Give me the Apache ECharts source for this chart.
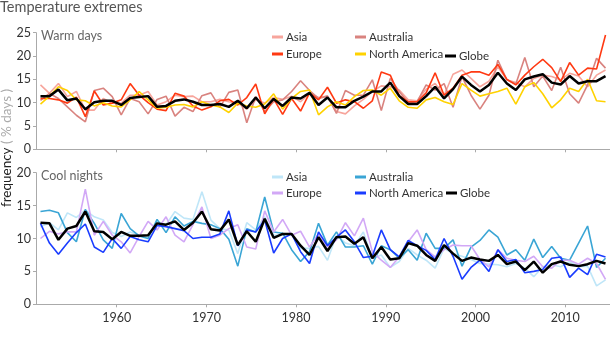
<!DOCTYPE html>
<html>
<head>
<meta charset="utf-8">
<script src="https://cdn.jsdelivr.net/npm/echarts@6/dist/echarts.min.js"></script>
<style>html,body{margin:0;padding:0;background:#fff}#c{width:610px;height:340px}</style>
</head>
<body>
<div id="c"></div>
<script>
// ---- data ----
var years = [];
for (var y = 1951; y <= 2014; y++) years.push(y);
var tickYears = [1960, 1970, 1980, 1990, 2000, 2010];
var warmTicks = [0, 5, 10, 15, 20, 25];
var coolTicks = [0, 5, 10, 15, 20];
var regions = ['Asia', 'Australia', 'Europe', 'North America', 'Globe'];

var warmAsia = [13.8,12.0,14.1,11.3,12.4,8.4,8.4,10.9,9.9,9.9,11.6,11.6,12.4,9.5,10.2,11.6,11.3,11.4,
  10.2,10.2,10.7,10.2,9.9,8.6,10.6,9.9,11.1,10.7,11.4,10.2,12.0,11.1,11.4,8.1,7.6,9.3,10.7,12.4,13.6,13.4,
  12.7,10.6,10.4,12.9,14.1,11.6,16.1,17.0,15.2,13.4,14.6,17.7,14.9,14.3,13.4,15.2,15.9,15.6,14.9,16.3,15.7,13.4,15.9,17.0];
var warmAustralia = [10.5,12.0,10.9,9.1,7.3,5.9,12.6,13.1,11.3,7.4,10.9,10.2,7.6,10.7,11.4,7.1,9.0,8.1,
  11.5,12.1,9.0,12.2,12.7,5.7,11.3,8.1,10.2,10.6,12.4,14.7,12.6,10.9,11.4,7.7,12.6,11.6,11.6,14.9,8.3,15.2,
  12.4,10.0,10.2,13.8,12.7,14.1,9.0,15.6,11.6,8.6,11.6,19.1,14.9,14.0,19.7,13.4,15.7,12.6,17.6,11.9,9.9,13.8,19.5,17.4];
var warmEurope = [10.9,10.9,10.6,9.9,11.2,7.0,12.5,9.5,9.9,10.6,14.1,11.6,10.0,8.6,8.3,12.0,11.4,9.3,
  8.4,9.1,10.4,10.7,9.5,11.1,14.0,7.6,10.8,7.5,10.9,8.2,12.1,10.6,13.3,9.9,10.6,10.2,8.8,10.4,16.6,15.9,
  11.5,10.2,10.2,12.1,16.4,11.6,13.1,15.9,16.6,16.6,15.9,18.2,15.0,13.8,15.9,17.7,19.3,17.5,14.5,18.6,15.9,17.4,17.2,24.5];
var warmNorthAmerica = [9.7,11.4,13.4,12.6,10.6,10.4,9.3,10.0,9.3,9.1,10.6,12.4,10.6,8.8,9.0,9.5,9.6,9.1,
  10.2,9.5,9.1,7.9,9.9,9.3,9.0,9.7,11.9,8.6,10.9,12.4,12.7,7.4,9.1,10.2,9.5,11.3,12.6,12.7,11.6,13.1,
  10.4,9.0,8.8,10.6,11.1,10.2,9.6,14.1,12.7,11.4,11.9,12.4,13.1,9.7,13.4,14.3,11.9,8.9,10.6,13.1,12.4,15.0,10.4,10.2];
var warmGlobe = [11.4,11.4,12.8,10.5,10.9,8.6,10.1,10.4,10.4,9.5,11.0,11.2,11.4,9.1,9.3,10.4,10.7,10.2,
  9.5,9.5,9.7,9.1,10.4,8.8,11.1,8.8,10.8,9.3,11.1,10.9,12.1,9.5,11.1,9.0,9.0,10.4,11.3,12.4,12.4,14.3,
  11.4,9.7,9.7,11.4,13.4,10.9,12.9,15.6,13.8,12.4,13.8,16.4,14.1,12.7,15.0,15.6,16.1,14.3,13.9,15.7,14.1,14.6,14.6,15.7];

var coolAsia = [11.8,12.4,11.3,13.9,13.2,14.3,13.3,12.8,10.9,10.3,11.0,10.5,10.4,12.6,12.1,14.1,13.1,12.9,
  17.1,12.8,11.5,11.3,7.7,12.4,11.3,13.3,10.5,10.5,10.7,8.5,8.5,8.8,6.7,10.5,9.3,8.9,11.0,7.0,7.5,5.6,
  6.5,8.5,7.5,6.7,5.5,8.5,7.7,7.3,6.8,6.2,6.1,6.0,5.7,6.2,5.5,4.2,5.7,6.0,5.7,6.5,5.7,5.8,2.8,3.7];
var coolAustralia = [14.1,14.3,13.9,10.9,9.5,14.4,12.3,9.8,8.5,13.8,11.5,10.4,10.0,12.9,10.9,13.3,11.9,12.6,
  12.3,12.1,11.5,9.9,5.8,11.5,11.0,16.3,11.0,10.8,8.3,6.5,8.0,12.3,9.0,11.0,8.7,8.7,8.9,6.1,8.9,8.3,
  7.0,8.3,6.7,10.8,8.5,8.5,9.8,5.8,8.7,9.7,11.3,10.2,7.5,8.3,6.7,9.9,7.1,8.8,7.0,6.7,9.3,11.9,5.6,7.0];
var coolEurope = [10.0,11.1,10.7,11.0,11.0,17.5,10.5,12.6,10.5,9.5,7.8,10.3,12.6,11.3,13.3,10.5,9.5,12.1,
  14.8,10.0,10.5,11.5,12.1,8.7,8.4,14.2,11.0,12.9,10.5,11.1,8.7,10.7,8.7,9.8,12.4,10.4,13.1,8.0,6.7,5.6,
  7.2,9.5,11.3,8.3,7.2,8.3,9.0,8.9,8.9,6.8,5.7,8.3,7.0,6.7,6.5,7.3,5.7,5.5,6.7,6.7,6.1,7.0,6.2,3.8];
var coolNorthAmerica = [12.3,9.3,7.6,9.3,10.9,12.2,8.7,7.9,10.0,8.5,10.3,9.8,9.5,12.0,11.8,11.5,11.2,10.0,
  10.2,10.2,10.7,14.2,8.9,11.3,11.0,12.8,7.8,10.0,10.7,8.0,6.2,11.0,8.9,10.2,11.3,9.5,7.1,7.3,11.3,8.3,
  7.2,9.7,8.9,8.2,6.8,10.0,7.3,3.8,5.6,6.7,5.0,8.3,6.5,6.8,4.8,5.0,5.3,7.0,7.2,4.1,5.5,4.5,7.6,7.2];
var coolGlobe = [12.4,12.3,9.8,11.5,11.9,14.1,11.1,11.0,9.9,11.0,10.4,10.4,10.5,12.3,12.1,12.6,11.3,12.4,
  14.1,11.4,11.2,12.9,9.0,11.1,9.5,13.0,10.1,10.7,10.7,8.9,7.5,10.2,8.1,10.2,10.3,9.2,10.2,7.0,8.7,6.8,
  7.0,9.3,8.9,7.5,6.6,9.0,7.7,6.6,7.1,6.8,6.6,7.5,6.1,6.5,5.2,6.5,4.8,6.1,6.5,6.0,5.8,6.1,6.6,6.2];

// ---- styling ----
var FONT = 'Lato';
var warmColors = ['#f7a59c', '#d9837f', '#ff3912', '#ffd200', '#000000'];
var coolColors = ['#bfe6f8', '#3aa5d5', '#d2a8f6', '#1a3cff', '#000000'];
var warmData = [warmAsia, warmAustralia, warmEurope, warmNorthAmerica, warmGlobe];
var coolData = [coolAsia, coolAustralia, coolEurope, coolNorthAmerica, coolGlobe];

function pts(arr) { return years.map(function (yr, i) { return [yr + 0.5, arr[i]]; }); }

var series = [];
regions.forEach(function (r, k) {
  series.push({ name: r, type: 'line', xAxisIndex: 0, yAxisIndex: 0, data: pts(warmData[k]),
    showSymbol: false, symbol: 'none', color: warmColors[k],
    lineStyle: { width: k === 4 ? 2.5 : 1.6, color: warmColors[k] }, z: k === 4 ? 5 : 2 });
});
regions.forEach(function (r, k) {
  series.push({ name: r + ' ', type: 'line', xAxisIndex: 1, yAxisIndex: 1, data: pts(coolData[k]),
    showSymbol: false, symbol: 'none', color: coolColors[k],
    lineStyle: { width: k === 4 ? 2.5 : 1.6, color: coolColors[k] }, z: k === 4 ? 5 : 2 });
});

// legend positions (left, top) per item
var legendPos = [[272, 31], [355, 31], [272, 48], [355, 48], [445, 50]];
var legendPosCool = [[272, 171], [355, 171], [272, 187], [355, 187], [446, 187]];
var legends = [];
function mkLegend(name, pos) {
  return { data: [name], left: pos[0], top: pos[1], icon: 'rect',
    itemWidth: 11, itemHeight: 3, itemGap: 0, padding: 0,
    textStyle: { fontFamily: FONT, fontSize: 11.5, color: '#333', padding: [0, 0, 0, -2] },
    formatter: function (n) { return n.trim(); } };
}
regions.forEach(function (r, k) {
  legends.push(mkLegend(r, legendPos[k]));
  legends.push(mkLegend(r + ' ', legendPosCool[k]));
});

function xAxis(gi, labels) {
  return { type: 'value', gridIndex: gi, min: 1951, max: 2015,
    axisLine: { show: true, lineStyle: { color: '#aaa', width: 1 } },
    axisTick: { show: true, length: 3, lineStyle: { color: '#aaa' }, customValues: tickYears },
    axisLabel: { show: labels, customValues: tickYears, formatter: function (v) { return String(v); },
      fontFamily: FONT, fontSize: 12.5, color: '#333', margin: 7 },
    splitLine: { show: false } };
}
function yAxis(gi, max) {
  return { type: 'value', gridIndex: gi, min: 0, max: max, interval: 5,
    axisLine: { show: true, lineStyle: { color: '#aaa', width: 1 } },
    axisTick: { show: true, length: 3, lineStyle: { color: '#aaa' } },
    axisLabel: { fontFamily: FONT, fontSize: 12.5, color: '#333', margin: 5 },
    splitLine: { show: false } };
}

var chart = echarts.init(document.getElementById('c'), null, { renderer: 'canvas' });
chart.setOption({
  animation: false,
  backgroundColor: '#fff',
  title: [
    { text: 'Temperature extremes', left: -2, top: 0, textStyle: { fontFamily: FONT, fontSize: 14.5, fontWeight: 'normal', color: '#555' }, padding: [0, 2] },
    { text: 'Warm days', left: 39, top: 29, textStyle: { fontFamily: FONT, fontSize: 12.5, fontWeight: 'normal', color: '#666' }, padding: [0, 2] },
    { text: 'Cool nights', left: 39, top: 169, textStyle: { fontFamily: FONT, fontSize: 12.5, fontWeight: 'normal', color: '#666' }, padding: [0, 2] }
  ],
  legend: legends,
  grid: [
    { left: 36, right: 0, top: 32.7, height: 116.6, containLabel: false },
    { left: 36, right: 0, top: 172.7, height: 131.6, containLabel: false }
  ],
  xAxis: [xAxis(0, false), xAxis(1, true)],
  yAxis: [yAxis(0, 25), yAxis(1, 20)],
  graphic: [{
    type: 'text', x: 7, y: 148, rotation: Math.PI / 2,
    style: { text: '{a|frequency} {b|( % days )}', align: 'center', verticalAlign: 'middle',
      rich: { a: { fontFamily: FONT, fontSize: 13.5, fill: '#222' }, b: { fontFamily: FONT, fontSize: 13.5, fill: '#aaa' } } }
  }],
  series: series
});
</script>
</body>
</html>
